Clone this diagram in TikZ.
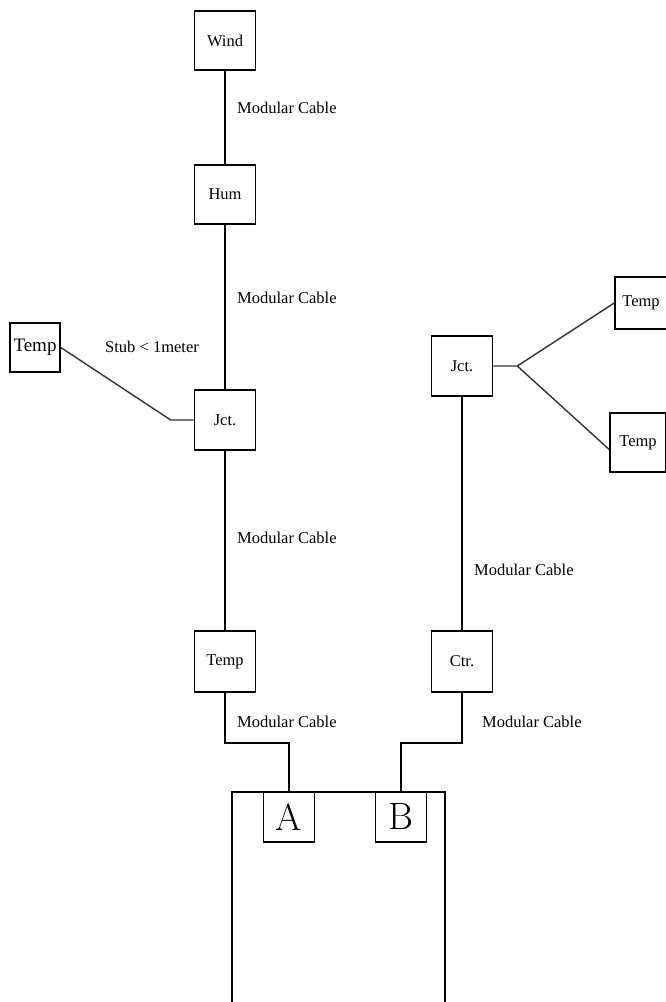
\documentclass[tikz,border=0pt]{standalone}
\usepackage{fontspec}
\setmainfont{Liberation Serif}
\newfontfamily\lmfont{Latin Modern Roman}
\begin{document}
\begin{tikzpicture}[x=1pt,y=-1pt,
  box/.style={draw,line width=1.6pt,inner sep=0pt,minimum width=61pt,minimum height=60pt,font=\fontsize{16.5}{18}\selectfont},
  port/.style={draw,line width=1.6pt,inner sep=0pt,minimum width=51pt,minimum height=50pt,font=\lmfont\fontsize{38}{40}\selectfont},
  lbl/.style={anchor=west,inner sep=0pt,font=\fontsize{16.5}{18}\selectfont},
  wire/.style={line width=1.6pt},
  stub/.style={line width=1.4pt,draw=black!80}]
\useasboundingbox (0,0) rectangle (665,1002);
% nodes
\node[box,minimum height=59pt] (wind) at (225,40.5) {Wind};
\node[box,minimum height=59pt] (hum) at (225,194.5) {Hum};
\node[box] (jctL) at (225,420) {Jct.};
\node[box,minimum width=50pt,minimum height=49pt,font=\fontsize{19}{20}\selectfont] (tempL) at (35,347.5) {Temp};
\node[box,minimum height=61pt] (tempB) at (225,661.5) {Temp};
\node[box] (jctR) at (462,366) {Jct.};
\node[box,minimum height=61pt] (ctr) at (462,661.5) {Ctr.};
\node[box,minimum width=52pt,minimum height=52pt] (tempRT) at (641,303) {Temp};
\node[box,minimum width=56pt,minimum height=59pt] (tempRB) at (638,442.5) {Temp};
% base unit
\draw[wire] (232,1002) -- (232,792) -- (445,792) -- (445,1002);
\node[port] (A) at (289,817) {A};
\node[port] (B) at (401,817) {B};
% connectors
\draw[wire] (wind.south) -- (hum.north);
\draw[wire] (hum.south) -- (jctL.north);
\draw[wire] (jctL.south) -- (tempB.north);
\draw[wire] (tempB.south) -- ++(0,50) -| (A.north);
\draw[wire] (jctR.south) -- (ctr.north);
\draw[wire] (ctr.south) -- ++(0,50) -| (B.north);
\draw[stub] (jctL.west) -- ++(-23,0) -- (tempL.east);
\coordinate (fork) at ([xshift=24pt]jctR.east);
\draw[stub] (jctR.east) -- (fork) -- (tempRT.west);
\draw[stub] (fork) -- ([yshift=-7pt]tempRB.west);
% labels
\node[lbl] (l1) at (237,108) {Modular Cable};
\node[lbl] (l2) at (237,298) {Modular Cable};
\node[lbl] (l3) at (237,538) {Modular Cable};
\node[lbl] (l4) at (237,722) {Modular Cable};
\node[lbl] (l5) at (474,570) {Modular Cable};
\node[lbl] (l6) at (482,722) {Modular Cable};
\node[lbl] (l7) at (105,347) {Stub < 1meter};
\end{tikzpicture}
\end{document}
